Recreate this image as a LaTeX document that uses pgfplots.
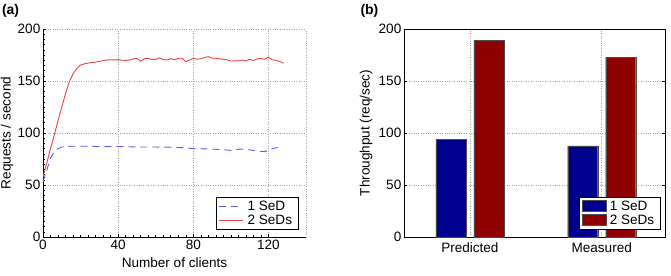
\documentclass[border=0pt]{standalone}
\usepackage{pgfplots}
\pgfplotsset{compat=1.18}
\usepackage{fontspec}
\setmainfont{Liberation Sans}

\definecolor{lineblue}{RGB}{90,90,235}
\definecolor{linered}{RGB}{235,65,65}
\definecolor{barblue}{RGB}{0,0,143}
\definecolor{barred}{RGB}{143,0,0}

% Throughput vs. number of clients
\pgfplotstableread{
x    one
0    53
2    64
4    76
6    82
8    85
10   86.5
14   87.2
20   87.3
30   87
40   87
50   86.6
60   86.5
70   86.3
75   85.8
80   85
85   84.8
90   84.5
95   84
100  83.3
105  84.6
110  83.8
115  82.6
118  82
120  83.5
122  85
125  86
}\oneSeD

\pgfplotstableread{
x    two
0    58
2    71
4    85
6    98
8    112
10   125
12   138
14   149
16   157
18   162
20   165.3
22   166.5
24   167.2
26   167.8
28   168.2
30   168.8
32   169.6
34   170.2
36   170.4
38   170.3
40   170.6
42   170
44   169.8
46   170.2
48   171.2
50   171.6
52   169
54   171.6
56   171.8
58   170.6
60   170.8
62   172.2
64   170.6
66   170.2
68   171.4
70   170.4
72   171.8
74   172
76   168.6
78   170.2
80   171.6
82   171
84   171.4
86   172.6
88   173.4
90   172
92   171.8
94   171.4
96   170.8
98   170.4
100  169.2
102  169.4
104  169.4
106  170.2
108  169.2
110  171
112  169.8
114  171.2
116  171.6
118  171
120  173
122  170.4
124  169.8
126  168.8
128  167.2
}\twoSeDs

\newcommand\plotfont{\fontsize{13.6}{15}\selectfont}

\begin{document}
\begin{tikzpicture}
\useasboundingbox (0bp,0bp) rectangle (671bp,276bp);

\pgfplotsset{
  every axis/.append style={
    font=\plotfont,
    scale only axis,
    anchor=south west,
    tick align=inside,
    major tick length=3bp,
    minor tick length=1.6bp,
    every tick/.style={black, line width=0.5pt},
    grid style={gray!70, dotted, line width=0.6pt},
    axis line style={line width=0.6pt},
    /pgf/number format/assume math mode=true,
    tick label style={font=\plotfont},
    yticklabel style={inner xsep=2.5bp},
    xticklabel style={inner ysep=2.5bp},
    label style={font=\plotfont},
    xlabel style={at={(axis description cs:0.5,0)}, anchor=center, yshift=-26bp},
    legend style={font=\plotfont, draw=black, line width=0.7pt,
      inner xsep=2.5bp, inner ysep=1.5bp, row sep=-1pt,
      nodes={inner xsep=4bp, inner ysep=2bp}},
    legend cell align=left,
  },
}

% (a) requests per second
\begin{axis}[
  at={(43bp,39bp)},
  width=263bp, height=208bp,
  xmin=0, xmax=140, ymin=0, ymax=200,
  xtick={0,40,80,120}, ytick={0,50,100,150,200},
  extra x ticks={140}, extra x tick labels={},
  extra x tick style={grid=major, major tick length=0pt},
  minor x tick num=9, minor y tick num=9,
  axis x line*=bottom, axis y line*=left,
  xmajorgrids, ymajorgrids,
  xlabel={Number of clients}, ylabel={Requests / second},
  ylabel style={at={(axis description cs:0,0.5)}, anchor=center, yshift=36bp},
  legend style={at={(0.973,0.034)}, anchor=south east},
  legend image code/.code={\draw[#1] (0bp,0bp) -- (24bp,0bp);},
]
\addplot[lineblue, line width=0.9pt, dash pattern=on 7bp off 5bp] table[x=x,y=one] {\oneSeD};
\addlegendentry{1 SeD}
\addplot[linered, line width=0.9pt] table[x=x,y=two] {\twoSeDs};
\addlegendentry{2 SeDs}
\end{axis}

% (b) predicted vs. measured throughput
\begin{axis}[
  at={(404bp,39bp)},
  width=261bp, height=208bp,
  ybar=8bp, bar width=30bp,
  xmin=-0.5, xmax=1.48, ymin=0, ymax=200,
  xtick=data, xticklabels={Predicted, Measured},
  ytick={0,50,100,150,200},
  major x tick style={draw=none},
  xmajorgrids, ymajorgrids,
  ylabel={Throughput (req/sec)},
  ylabel style={at={(axis description cs:0,0.5)}, anchor=center, yshift=38bp},
  legend style={at={(0.985,0.034)}, anchor=south east},
  legend image code/.code={\draw[#1] (0bp,-5bp) rectangle (24bp,6bp);},
]
\addplot[fill=barblue, draw=black!70, line width=0.3pt] coordinates {(0,94.2) (1,87.5)};
\addlegendentry{1 SeD}
\addplot[fill=barred, draw=black!70, line width=0.3pt] coordinates {(0,188.8) (1,173)};
\addlegendentry{2 SeDs}
\end{axis}

\node[anchor=west, font=\bfseries\fontsize{14}{15}\selectfont] at (-1.5bp,265bp) {(a)};
\node[anchor=west, font=\bfseries\fontsize{14}{15}\selectfont] at (357bp,265bp) {(b)};
\end{tikzpicture}
\end{document}
